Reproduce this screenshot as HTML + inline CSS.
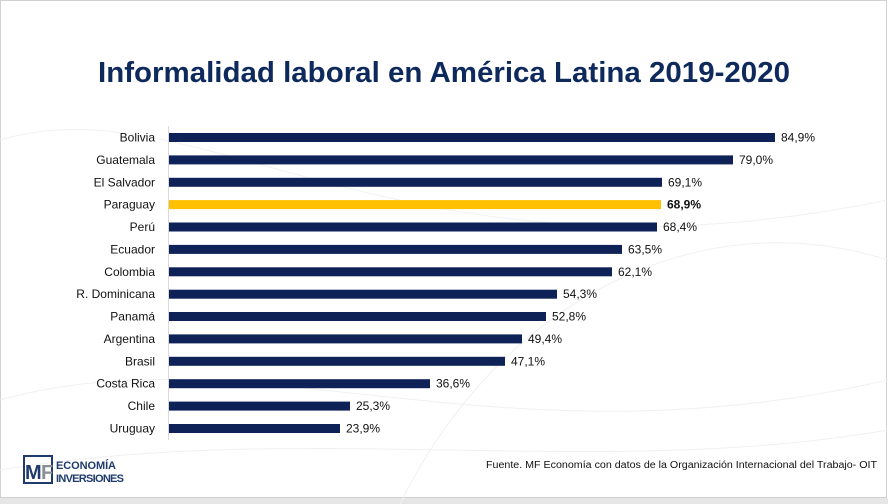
<!DOCTYPE html>
<html><head><meta charset="utf-8"><style>
html,body{margin:0;padding:0;background:#fff;}
svg{display:block;font-family:"Liberation Sans",Arial,sans-serif;}
</style></head><body>
<svg width="888" height="504" viewBox="0 0 888 504" xmlns="http://www.w3.org/2000/svg">
<rect x="0" y="0" width="888" height="504" fill="#fff"/>
<rect x="0.5" y="0.5" width="886" height="497" fill="none" stroke="#d0d0d0"/>
<rect x="0" y="498" width="888" height="6" fill="#e6e6e6"/>
<g fill="none" stroke="#f0f0f0" stroke-width="1">
<path d="M0 140 C200 80 400 300 888 200"/>
<path d="M0 400 C250 330 500 470 888 380"/>
<path d="M400 504 C500 300 700 200 888 260"/>
<path d="M0 470 C300 420 600 480 888 430"/>
</g>
<text x="444" y="82" text-anchor="middle" font-size="29" font-weight="bold" fill="#0e2a5c" textLength="692" lengthAdjust="spacingAndGlyphs">Informalidad laboral en América Latina 2019-2020</text>
<line x1="168.5" y1="126" x2="168.5" y2="440" stroke="#d9d9d9"/>
<g font-size="12" fill="#111">
<text x="155" y="141.5" text-anchor="end">Bolivia</text><rect x="169" y="133" width="606" height="9" fill="#0e2258"/><text x="781" y="141.5">84,9%</text>
<text x="155" y="163.9" text-anchor="end">Guatemala</text><rect x="169" y="155.4" width="564" height="9" fill="#0e2258"/><text x="739" y="163.9">79,0%</text>
<text x="155" y="186.3" text-anchor="end">El Salvador</text><rect x="169" y="177.8" width="493" height="9" fill="#0e2258"/><text x="668" y="186.3">69,1%</text>
<text x="155" y="208.6" text-anchor="end">Paraguay</text><rect x="169" y="200.1" width="492" height="9" fill="#ffc000"/><text x="667" y="208.6" font-weight="bold">68,9%</text>
<text x="155" y="231" text-anchor="end">Perú</text><rect x="169" y="222.5" width="488" height="9" fill="#0e2258"/><text x="663" y="231">68,4%</text>
<text x="155" y="253.4" text-anchor="end">Ecuador</text><rect x="169" y="244.9" width="453" height="9" fill="#0e2258"/><text x="628" y="253.4">63,5%</text>
<text x="155" y="275.8" text-anchor="end">Colombia</text><rect x="169" y="267.3" width="443" height="9" fill="#0e2258"/><text x="618" y="275.8">62,1%</text>
<text x="155" y="298.2" text-anchor="end">R. Dominicana</text><rect x="169" y="289.7" width="388" height="9" fill="#0e2258"/><text x="563" y="298.2">54,3%</text>
<text x="155" y="320.5" text-anchor="end">Panamá</text><rect x="169" y="312" width="377" height="9" fill="#0e2258"/><text x="552" y="320.5">52,8%</text>
<text x="155" y="342.9" text-anchor="end">Argentina</text><rect x="169" y="334.4" width="353" height="9" fill="#0e2258"/><text x="528" y="342.9">49,4%</text>
<text x="155" y="365.3" text-anchor="end">Brasil</text><rect x="169" y="356.8" width="336" height="9" fill="#0e2258"/><text x="511" y="365.3">47,1%</text>
<text x="155" y="387.7" text-anchor="end">Costa Rica</text><rect x="169" y="379.2" width="261" height="9" fill="#0e2258"/><text x="436" y="387.7">36,6%</text>
<text x="155" y="410.1" text-anchor="end">Chile</text><rect x="169" y="401.6" width="181" height="9" fill="#0e2258"/><text x="356" y="410.1">25,3%</text>
<text x="155" y="432.5" text-anchor="end">Uruguay</text><rect x="169" y="424" width="171" height="9" fill="#0e2258"/><text x="346" y="432.5">23,9%</text>
</g>
<text x="486" y="468" font-size="10" fill="#111" textLength="391" lengthAdjust="spacingAndGlyphs">Fuente. MF Economía con datos de la Organización Internacional del Trabajo- OIT</text>
<rect x="24" y="456" width="28" height="27" fill="none" stroke="#1f3b6e" stroke-width="2"/>
<text x="25" y="479" font-size="20" font-weight="bold" fill="#1f3b6e">M</text>
<text x="41" y="479" font-size="20" font-weight="bold" fill="#8a8f96">F</text>
<text x="56" y="469" font-size="11" fill="#1f3b6e" font-weight="bold" textLength="60">ECONOMÍA</text>
<text x="56" y="482" font-size="11" fill="#1f3b6e" font-weight="bold" textLength="68">INVERSIONES</text>
</svg>
</body></html>
